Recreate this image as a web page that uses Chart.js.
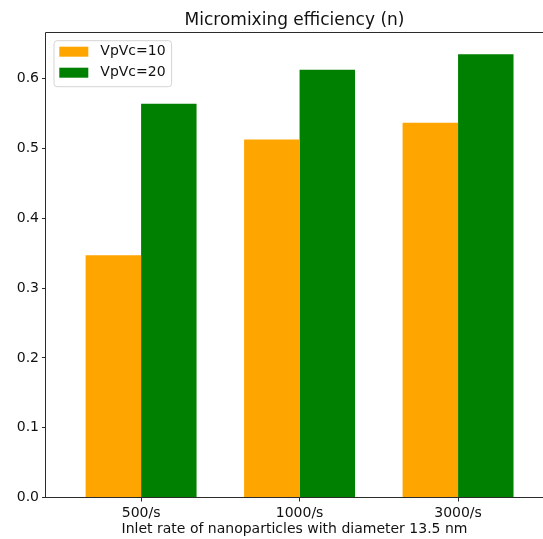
<!DOCTYPE html>
<html>
<head>
<meta charset="utf-8">
<script src="https://cdn.jsdelivr.net/npm/chart.js@4.4.0/dist/chart.umd.min.js"></script>
<style>
  html, body { margin: 0; padding: 0; background: #fff; overflow: hidden; }
</style>
</head>
<body>
<canvas id="effChart" width="543" height="539"></canvas>
<script>
const categories = ['500/s', '1000/s', '3000/s'];
const vpvc10 = [0.347, 0.513, 0.537];
const vpvc20 = [0.564, 0.613, 0.635];
const yTicks = [0, 0.1, 0.2, 0.3, 0.4, 0.5, 0.6];
const colors = ['#FFA500', '#008000'];

Chart.defaults.font.family = "'DejaVu Sans', sans-serif";
Chart.defaults.font.size = 14;
Chart.defaults.color = '#111';

const ink = '#2b2b2b';
const patchW = 29, patchH = 10;

// spines (the right one falls outside the picture) and the legend box
const framePlugin = {
    id: 'frame',
    afterLayout(chart) {
        const a = chart.chartArea;
        chart.legend.left = a.left + 6.3;
        chart.legend.top = a.top + 5.4;
    },
    beforeDraw(chart) {
        const hb = chart.legend.legendHitBoxes;
        if (!hb || !hb.length) return;
        const ctx = chart.ctx;
        const first = hb[0], last = hb[hb.length - 1];
        const right = Math.max(...hb.map(h => h.left + h.width));
        const x0 = first.left - 5.3, y0 = first.top - 4;
        const x1 = right + 6, y1 = last.top + last.height + 7;
        ctx.save();
        ctx.beginPath();
        if (ctx.roundRect) ctx.roundRect(x0, y0, x1 - x0, y1 - y0, 3);
        else ctx.rect(x0, y0, x1 - x0, y1 - y0);
        ctx.fillStyle = 'rgba(255,255,255,0.8)';
        ctx.fill();
        ctx.strokeStyle = '#d4d4d4';
        ctx.lineWidth = 1;
        ctx.stroke();
        // the colour patches, narrower than the slot Chart.js leaves before the text
        hb.forEach((h, i) => {
            ctx.fillStyle = colors[i];
            ctx.fillRect(h.left, h.top + (h.height - patchH) / 2, patchW, patchH);
        });
        ctx.restore();
    },
    afterDatasetsDraw(chart) {
        const a = chart.chartArea;
        const ctx = chart.ctx;
        const l = Math.round(a.left) - 0.5, t = Math.round(a.top) + 0.5, b = Math.round(a.bottom) - 0.5;
        ctx.save();
        ctx.strokeStyle = ink;
        ctx.lineWidth = 1;
        ctx.beginPath();
        ctx.moveTo(chart.width, t);
        ctx.lineTo(l, t);
        ctx.lineTo(l, b);
        ctx.lineTo(chart.width, b);
        ctx.stroke();
        ctx.restore();
    }
};

new Chart(document.getElementById('effChart'), {
    type: 'bar',
    data: {
        datasets: [{
            label: 'VpVc=10',
            data: vpvc10.map((v, i) => ({ x: i, y: v })),
            backgroundColor: colors[0],
            borderWidth: 0
        }, {
            label: 'VpVc=20',
            data: vpvc20.map((v, i) => ({ x: i, y: v })),
            backgroundColor: colors[1],
            borderWidth: 0
        }]
    },
    options: {
        responsive: false,
        animation: false,
        devicePixelRatio: 1,
        categoryPercentage: 0.7,
        barPercentage: 1.0,
        layout: { padding: 0 },
        scales: {
            x: {
                type: 'linear',
                min: -0.6,
                max: 2.536,
                offset: false,
                afterBuildTicks: s => { s.ticks = categories.map((c, i) => ({ value: i })); },
                afterFit: s => { s.height = 41.5; },
                grid: { display: true, offset: false, drawOnChartArea: false, tickLength: 4, color: ink },
                border: { display: false },
                ticks: {
                    padding: 3.5,
                    maxRotation: 0,
                    autoSkip: false,
                    color: '#111',
                    callback: v => categories[v]
                },
                title: {
                    display: true,
                    text: 'Inlet rate of nanoparticles with diameter 13.5 nm',
                    color: '#111',
                    font: { size: 14 },
                    padding: { top: 0, bottom: 1.5 }
                }
            },
            y: {
                min: 0,
                max: 0.6665,
                afterBuildTicks: s => { s.ticks = yTicks.map(v => ({ value: v })); },
                afterFit: s => { s.width = 46; },
                grid: { display: true, drawOnChartArea: false, tickLength: 4, color: ink },
                border: { display: false },
                ticks: {
                    padding: 3,
                    color: '#111',
                    callback: v => v.toFixed(1)
                }
            }
        },
        plugins: {
            title: {
                display: true,
                text: 'Micromixing efficiency (n)',
                fullSize: false,
                color: '#111',
                font: { size: 17, weight: 'normal' },
                padding: { top: 10.3, bottom: 1.6 }
            },
            legend: {
                display: true,
                position: 'chartArea',
                align: 'start',
                labels: {
                    boxWidth: 34,
                    boxHeight: patchH,
                    padding: 7,
                    color: '#111',
                    font: { size: 14 },
                    generateLabels: chart => Chart.defaults.plugins.legend.labels.generateLabels(chart)
                        .map(item => Object.assign(item, { fillStyle: 'rgba(0,0,0,0)', strokeStyle: 'rgba(0,0,0,0)', lineWidth: 0 }))
                }
            },
            tooltip: { enabled: false }
        }
    },
    plugins: [framePlugin]
});
</script>
</body>
</html>
